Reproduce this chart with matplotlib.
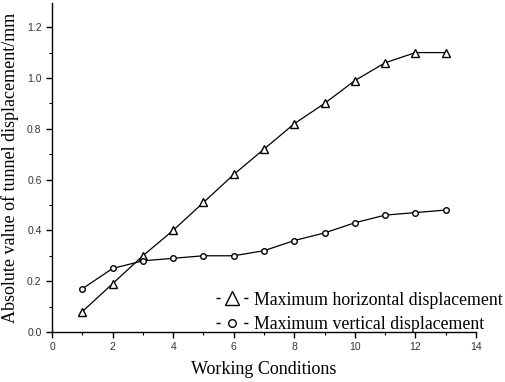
import matplotlib
matplotlib.use("Agg")
import matplotlib.pyplot as plt
from matplotlib.ticker import MultipleLocator
from matplotlib.lines import Line2D

# Data
conditions = [1, 2, 3, 4, 5, 6, 7, 8, 9, 10, 11, 12, 13]
horizontal = [0.08, 0.19, 0.30, 0.40, 0.51, 0.62, 0.72, 0.82, 0.90, 0.99, 1.06, 1.10, 1.10]
vertical = [0.17, 0.25, 0.28, 0.29, 0.30, 0.30, 0.32, 0.36, 0.39, 0.43, 0.46, 0.47, 0.48]
labels = ['Maximum horizontal displacement', 'Maximum vertical displacement']

serif = ['Liberation Serif', 'DejaVu Serif']
sans = ['Liberation Sans', 'DejaVu Sans']

fig = plt.figure(figsize=(5.05, 3.82), dpi=100)
ax = fig.add_axes([0.103, 0.131, 0.8397, 0.861])

ax.plot(conditions, horizontal, color='black', lw=0.9, marker='^', ms=6,
        mfc='white', mec='black', mew=1.0)
ax.plot(conditions, vertical, color='black', lw=0.9, marker='o', ms=4,
        mfc='white', mec='black', mew=1.0)

ax.set_xlim(0, 14)
ax.set_ylim(0, 1.295)
ax.xaxis.set_major_locator(MultipleLocator(2))
ax.xaxis.set_minor_locator(MultipleLocator(1))
ax.yaxis.set_major_locator(MultipleLocator(0.2))
ax.yaxis.set_minor_locator(MultipleLocator(0.1))
ax.yaxis.set_major_formatter(plt.FuncFormatter(lambda v, p: f'{v:.1f}'))

for side in ['top', 'right']:
    ax.spines[side].set_visible(False)
for side in ['left', 'bottom']:
    ax.spines[side].set_linewidth(1.0)

ax.tick_params(which='major', direction='out', length=4, width=1.0, labelsize=7.5)
ax.tick_params(which='minor', direction='out', length=2.5, width=0.8)
for lab in ax.get_xticklabels() + ax.get_yticklabels():
    lab.set_family(sans)
    lab.set_color('#333333')

ax.set_xlabel('Working Conditions', family=serif, fontsize=13, labelpad=6)
ax.set_ylabel('Absolute value of tunnel displacement/mm', family=serif, fontsize=13, labelpad=6)

# legend handles drawn like "-△-" and "-○-"
h1 = Line2D([], [], color='black', lw=1.0, dashes=(3, 17, 3, 17), marker='^', ms=9.5,
            mfc='white', mec='black', mew=1.0)
h2 = Line2D([], [], color='black', lw=1.0, dashes=(3, 17, 3, 17), marker='o', ms=5.5,
            mfc='white', mec='black', mew=1.0)
fig.legend([h1, h2], labels, loc='lower left', bbox_to_anchor=(0.428, 0.128),
           frameon=False, prop={'family': serif, 'size': 12.8},
           handlelength=1.8, handletextpad=0.35, labelspacing=0.42,
           borderpad=0, borderaxespad=0)

fig.savefig('out.png', dpi=100)
